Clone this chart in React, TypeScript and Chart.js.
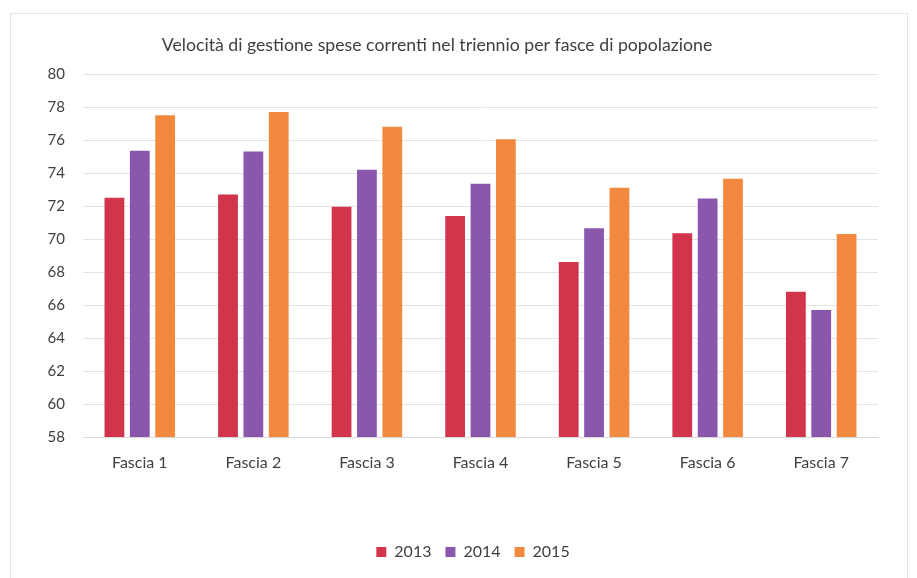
import React, { useEffect, useRef } from "react";
import { Chart, registerables } from "chart.js";

Chart.register(...registerables);

const categories = ["Fascia 1", "Fascia 2", "Fascia 3", "Fascia 4", "Fascia 5", "Fascia 6", "Fascia 7"];
const values2013 = [72.5, 72.7, 71.95, 71.4, 68.6, 70.35, 66.8];
const values2014 = [75.35, 75.3, 74.2, 73.35, 70.65, 72.45, 65.7];
const values2015 = [77.5, 77.7, 76.8, 76.05, 73.1, 73.65, 70.3];
const seriesLabels = ["2013", "2014", "2015"];
const titleText = "Velocità di gestione spese correnti nel triennio per fasce di popolazione";

const FONT = "Lato, 'Open Sans', sans-serif";
const TEXT = "#404040";

export default function App() {
  const ref = useRef<HTMLCanvasElement | null>(null);
  useEffect(() => {
    if (!ref.current) return;
    const framePlugin = {
      id: "frame",
      afterLayout(chart: any) {
        if (chart.legend) {
          chart.legend.left += 34;
          chart.legend.right += 34;
        }
      },
      beforeDraw(chart: any) {
        const ctx = chart.ctx;
        ctx.save();
        ctx.fillStyle = "#ffffff";
        ctx.fillRect(0, 0, chart.width, chart.height);
        ctx.strokeStyle = "#e6e6e6";
        ctx.lineWidth = 1;
        ctx.strokeRect(10.5, 13.5, chart.width - 20, chart.height - 10);
        ctx.restore();
      },
      afterDraw(chart: any) {
        const ctx = chart.ctx;
        ctx.save();
        ctx.fillStyle = TEXT;
        ctx.font = "17.7px " + FONT;
        ctx.textAlign = "center";
        ctx.textBaseline = "middle";
        ctx.fillText(titleText, 437, 45);
        ctx.restore();
      },
    };
    const chart = new Chart(ref.current, {
      type: "bar",
      data: {
        labels: categories,
        datasets: [
          { label: seriesLabels[0], data: values2013, backgroundColor: "#d2344c", borderWidth: 0 },
          { label: seriesLabels[1], data: values2014, backgroundColor: "#8a57ad", borderWidth: 0 },
          { label: seriesLabels[2], data: values2015, backgroundColor: "#f3893e", borderWidth: 0 },
        ],
      },
      options: {
        animation: false,
        responsive: false,
        maintainAspectRatio: false,
        layout: { padding: { top: 74, right: 39, bottom: 8, left: 0 } },
        datasets: { bar: { barPercentage: 0.78, categoryPercentage: 0.67 } },
        plugins: {
          title: { display: false },
          tooltip: { enabled: false },
          legend: {
            position: "bottom",
            labels: {
              boxWidth: 10,
              boxHeight: 10,
              padding: 14,
              color: TEXT,
              font: { family: FONT, size: 16 },
            },
          },
        },
        scales: {
          x: {
            grid: { display: false },
            border: { color: "#d9d9d9" },
            ticks: { color: TEXT, font: { family: FONT, size: 16 }, padding: 8 },
            afterFit(s: any) { s.height = 93; },
          },
          y: {
            min: 58,
            max: 80,
            ticks: { stepSize: 2, color: TEXT, font: { family: FONT, size: 15 }, padding: 18 },
            grid: { color: "#e3e3e3", drawTicks: false },
            border: { display: false },
            afterFit(s: any) { s.width = 83; },
          },
        },
      },
      plugins: [framePlugin],
    } as any);
    return () => chart.destroy();
  }, []);
  return (
    <div style={{ position: "fixed", left: 0, top: 0, width: 917, height: 578, background: "#fff" }}>
      <canvas ref={ref} width={917} height={578} style={{ width: 917, height: 578, display: "block" }} />
    </div>
  );
}
